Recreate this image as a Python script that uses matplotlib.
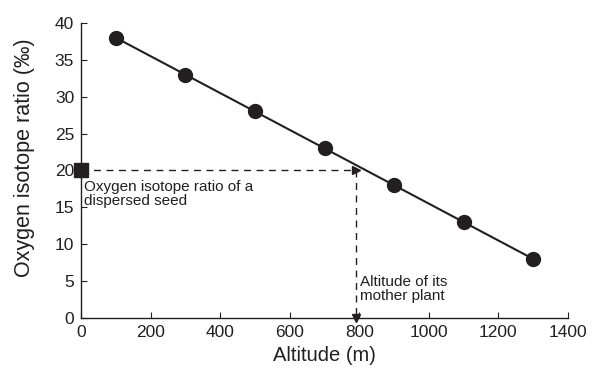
import matplotlib

matplotlib.use("Agg")
import matplotlib.pyplot as plt

plt.rcParams["font.family"] = ["Liberation Sans", "DejaVu Sans"]

# calibration points: altitude (m) vs oxygen isotope ratio (per mil)
altitudes = [100, 300, 500, 700, 900, 1100, 1300]
ratios = [38, 33, 28, 23, 18, 13, 8]

# the dispersed seed and the altitude
seed_ratio = 20
mother_altitude = 790

x_ticks = [0, 200, 400, 600, 800, 1000, 1200, 1400]
y_ticks = [0, 5, 10, 15, 20, 25, 30, 35, 40]

ink = "#231f20"

fig = plt.figure(figsize=(5.96, 3.71), dpi=100)
ax = fig.add_axes([0.136, 0.143, 0.817, 0.795])

ax.plot(altitudes, ratios, color=ink, linewidth=1.5, zorder=2)
ax.plot(altitudes, ratios, "o", color=ink, markersize=10, zorder=3)

# dashed read-off lines
ax.plot([0, mother_altitude], [seed_ratio, seed_ratio], color=ink,
        linestyle=(0, (5, 4)), linewidth=1.0, zorder=1)
ax.plot([mother_altitude, mother_altitude], [seed_ratio, 0], color=ink,
        linestyle=(0, (5, 4)), linewidth=1.0, zorder=1)
ax.plot([mother_altitude], [seed_ratio], ">", color=ink, markersize=6, zorder=3)
ax.plot([mother_altitude], [0], "v", color=ink, markersize=6, zorder=3, clip_on=False)
ax.plot([0], [seed_ratio], "s", color=ink, markersize=10, zorder=4, clip_on=False)

ax.text(8, 18.7, "Oxygen isotope ratio of a\ndispersed seed", fontsize=11,
        va="top", ha="left", linespacing=1.0, color=ink)
ax.text(mother_altitude + 12, 5.8, "Altitude of its\nmother plant", fontsize=11,
        va="top", ha="left", linespacing=1.0, color=ink)

ax.set_xlim(0, 1400)
ax.set_ylim(0, 40)
ax.set_xticks(x_ticks)
ax.set_yticks(y_ticks)
ax.tick_params(direction="in", length=4, width=0.8, labelsize=12.5, pad=5,
               colors=ink)
ax.spines["top"].set_visible(False)
ax.spines["right"].set_visible(False)
for side in ("left", "bottom"):
    ax.spines[side].set_linewidth(1.0)
    ax.spines[side].set_color(ink)

ax.set_xlabel("Altitude (m)", fontsize=14.5, color=ink)
ax.set_ylabel("Oxygen isotope ratio (\u2030)", fontsize=15.5, color=ink)
ax.xaxis.set_label_coords(0.5, -0.095)
ax.yaxis.set_label_coords(-0.094, 0.545)

fig.savefig("out.png", dpi=100)
